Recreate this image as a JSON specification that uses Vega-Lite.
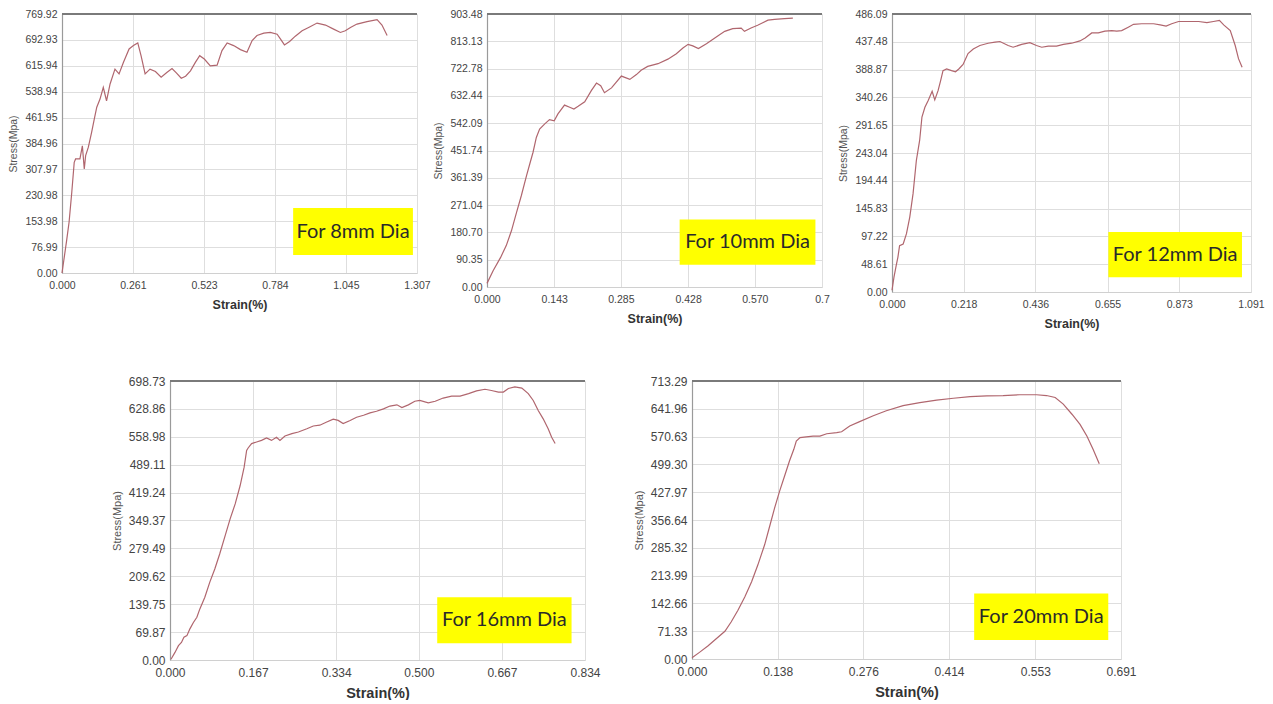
{
  "$schema": "https://vega.github.io/schema/vega-lite/v6.json",
  "background": "white",
  "padding": {"left": 8, "top": 9, "right": 0, "bottom": 0},
  "config": {
    "view": {"stroke": null},
    "axis": {
      "labelFont": "Liberation Sans",
      "titleFont": "Liberation Sans",
      "labelColor": "#444444",
      "gridColor": "#dedede",
      "gridWidth": 1,
      "ticks": false,
      "tickCount": 50,
      "labelFlush": false,
      "labelOverlap": false,
      "labelSeparation": 0,
      "labelPadding": 5
    },
    "axisX": {"domainColor": "#d0d0d0", "titleFontWeight": "bold", "titleColor": "#333333", "titlePadding": 8, "labelPadding": 7},
    "axisY": {"domainColor": "#9a9a9a", "domainWidth": 1.2, "titleFontWeight": "normal", "titleColor": "#555555", "titlePadding": 6},
    "line": {"color": "#b0666e", "strokeWidth": 1.2},
    "rect": {"color": "#ffff00"},
    "text": {"font": "Lato", "fontSize": 20, "color": "#2a2a2a", "align": "center", "baseline": "middle"}
  },
  "spacing": 45,
  "vconcat": [
    {
      "bounds": "flush",
      "spacing": 70,
      "hconcat": [
        {
          "width": 355, "height": 259,
          "data": {"values": [
            {"strain":0,"stress":0},{"strain":0.017,"stress":96},{"strain":0.026,"stress":151},{"strain":0.036,"stress":240},{"strain":0.045,"stress":329},{"strain":0.050,"stress":339},{"strain":0.066,"stress":339},{"strain":0.075,"stress":378},{"strain":0.082,"stress":309},{"strain":0.087,"stress":349},{"strain":0.097,"stress":374},{"strain":0.109,"stress":418},{"strain":0.119,"stress":458},{"strain":0.128,"stress":493},{"strain":0.140,"stress":517},{"strain":0.152,"stress":552},{"strain":0.164,"stress":512},{"strain":0.177,"stress":562},{"strain":0.195,"stress":606},{"strain":0.210,"stress":592},{"strain":0.226,"stress":626},{"strain":0.247,"stress":666},{"strain":0.263,"stress":676},{"strain":0.279,"stress":684},{"strain":0.291,"stress":646},{"strain":0.306,"stress":592},{"strain":0.324,"stress":606},{"strain":0.344,"stress":599},{"strain":0.365,"stress":582},{"strain":0.387,"stress":597},{"strain":0.405,"stress":608},{"strain":0.421,"stress":595},{"strain":0.439,"stress":579},{"strain":0.455,"stress":585},{"strain":0.473,"stress":601},{"strain":0.491,"stress":626},{"strain":0.507,"stress":646},{"strain":0.524,"stress":636},{"strain":0.546,"stress":616},{"strain":0.571,"stress":618},{"strain":0.589,"stress":661},{"strain":0.608,"stress":684},{"strain":0.632,"stress":676},{"strain":0.657,"stress":664},{"strain":0.681,"stress":656},{"strain":0.700,"stress":691},{"strain":0.718,"stress":706},{"strain":0.743,"stress":713},{"strain":0.767,"stress":715},{"strain":0.792,"stress":710},{"strain":0.804,"stress":696},{"strain":0.819,"stress":678},{"strain":0.838,"stress":688},{"strain":0.859,"stress":704},{"strain":0.884,"stress":720},{"strain":0.908,"stress":730},{"strain":0.939,"stress":743},{"strain":0.970,"stress":737},{"strain":1.000,"stress":725},{"strain":1.025,"stress":715},{"strain":1.043,"stress":720},{"strain":1.062,"stress":730},{"strain":1.086,"stress":740},{"strain":1.123,"stress":747},{"strain":1.160,"stress":753},{"strain":1.178,"stress":737},{"strain":1.197,"stress":706}
          ]},
          "layer": [
            {
              "mark": "line",
              "encoding": {
                "x": {"field": "strain", "type": "quantitative", "scale": {"domain": [0, 1.307], "nice": false, "zero": false},
                      "axis": {"title": "Strain(%)", "values": [0, 0.261, 0.523, 0.784, 1.045, 1.307], "tickCount": 50, "format": ".3f", "labelFontSize": 10.5, "titleFontSize": 12.5, "labelOverlap": false}},
                "y": {"field": "stress", "type": "quantitative", "scale": {"domain": [0, 769.92], "nice": false, "zero": false},
                      "axis": {"title": "Stress(Mpa)", "values": [0, 76.99, 153.98, 230.98, 307.97, 384.96, 461.95, 538.94, 615.94, 692.93, 769.92], "tickCount": 50, "format": ".2f", "labelFontSize": 10.5, "titleFontSize": 10.5, "labelOverlap": false}}
              }
            },
            {"mark": {"type": "rule", "color": "#7a7a7a", "strokeWidth": 2}, "encoding": {"y": {"datum": 769.92}}},
            {"data": {"values": [{"label": "For 8mm Dia"}]}, "mark": "rect",
             "encoding": {"x": {"datum": 0.851}, "x2": {"datum": 1.292}, "y": {"datum": 193}, "y2": {"datum": 53.5}}},
            {"data": {"values": [{"label": "For 8mm Dia"}]}, "mark": "text",
             "encoding": {"x": {"datum": 1.0715}, "y": {"datum": 123}, "text": {"field": "label"}}}
          ]
        },
        {
          "width": 335, "height": 273,
          "data": {"values": [
            {"strain":0,"stress":12},{"strain":0.013,"stress":54},{"strain":0.029,"stress":98},{"strain":0.041,"stress":137},{"strain":0.052,"stress":186},{"strain":0.062,"stress":242},{"strain":0.073,"stress":302},{"strain":0.084,"stress":368},{"strain":0.091,"stress":407},{"strain":0.098,"stress":446},{"strain":0.105,"stress":495},{"strain":0.112,"stress":523},{"strain":0.123,"stress":540},{"strain":0.133,"stress":554},{"strain":0.143,"stress":550},{"strain":0.151,"stress":573},{"strain":0.165,"stress":602},{"strain":0.176,"stress":595},{"strain":0.185,"stress":589},{"strain":0.194,"stress":598},{"strain":0.208,"stress":613},{"strain":0.222,"stress":650},{"strain":0.233,"stress":675},{"strain":0.242,"stress":666},{"strain":0.250,"stress":643},{"strain":0.265,"stress":659},{"strain":0.286,"stress":698},{"strain":0.304,"stress":687},{"strain":0.318,"stress":703},{"strain":0.328,"stress":717},{"strain":0.342,"stress":730},{"strain":0.364,"stress":739},{"strain":0.385,"stress":754},{"strain":0.403,"stress":772},{"strain":0.417,"stress":791},{"strain":0.428,"stress":803},{"strain":0.438,"stress":798},{"strain":0.450,"stress":789},{"strain":0.467,"stress":805},{"strain":0.481,"stress":820},{"strain":0.495,"stress":835},{"strain":0.506,"stress":846},{"strain":0.523,"stress":855},{"strain":0.541,"stress":857},{"strain":0.548,"stress":846},{"strain":0.562,"stress":857},{"strain":0.576,"stress":866},{"strain":0.598,"stress":883},{"strain":0.612,"stress":886},{"strain":0.633,"stress":888},{"strain":0.651,"stress":890}
          ]},
          "layer": [
            {
              "mark": "line",
              "encoding": {
                "x": {"field": "strain", "type": "quantitative", "scale": {"domain": [0, 0.713], "nice": false, "zero": false},
                      "axis": {"title": "Strain(%)", "values": [0, 0.143, 0.285, 0.428, 0.570, 0.713], "tickCount": 50, "labelExpr": "datum.value > 0.7 ? '0.7' : format(datum.value, '.3f')", "labelFontSize": 10.5, "titleFontSize": 12.5, "labelOverlap": false}},
                "y": {"field": "stress", "type": "quantitative", "scale": {"domain": [0, 903.48], "nice": false, "zero": false},
                      "axis": {"title": "Stress(Mpa)", "values": [0, 90.35, 180.70, 271.04, 361.39, 451.74, 542.09, 632.44, 722.78, 813.13, 903.48], "tickCount": 50, "format": ".2f", "labelFontSize": 10.5, "titleFontSize": 10.5, "labelOverlap": false}}
              }
            },
            {"mark": {"type": "rule", "color": "#7a7a7a", "strokeWidth": 2}, "encoding": {"y": {"datum": 903.48}}},
            {"data": {"values": [{"label": "For 10mm Dia"}]}, "mark": "rect",
             "encoding": {"x": {"datum": 0.410}, "x2": {"datum": 0.699}, "y": {"datum": 223}, "y2": {"datum": 74}}},
            {"data": {"values": [{"label": "For 10mm Dia"}]}, "mark": "text",
             "encoding": {"x": {"datum": 0.5545}, "y": {"datum": 148.5}, "text": {"field": "label"}}}
          ]
        },
        {
          "width": 359, "height": 278,
          "data": {"values": [
            {"strain":0,"stress":3},{"strain":0.006,"stress":26},{"strain":0.013,"stress":47},{"strain":0.018,"stress":61},{"strain":0.023,"stress":81},{"strain":0.034,"stress":84},{"strain":0.044,"stress":102},{"strain":0.054,"stress":131},{"strain":0.064,"stress":172},{"strain":0.074,"stress":230},{"strain":0.084,"stress":265},{"strain":0.091,"stress":306},{"strain":0.100,"stress":323},{"strain":0.110,"stress":335},{"strain":0.122,"stress":351},{"strain":0.130,"stress":336},{"strain":0.140,"stress":352},{"strain":0.148,"stress":370},{"strain":0.155,"stress":387},{"strain":0.166,"stress":390},{"strain":0.181,"stress":387},{"strain":0.193,"stress":385},{"strain":0.203,"stress":390},{"strain":0.216,"stress":398},{"strain":0.231,"stress":417},{"strain":0.247,"stress":425},{"strain":0.267,"stress":431},{"strain":0.292,"stress":435},{"strain":0.313,"stress":437},{"strain":0.328,"stress":438},{"strain":0.353,"stress":431},{"strain":0.368,"stress":428},{"strain":0.394,"stress":433},{"strain":0.419,"stress":436},{"strain":0.439,"stress":431},{"strain":0.455,"stress":428},{"strain":0.475,"stress":430},{"strain":0.500,"stress":430},{"strain":0.521,"stress":433},{"strain":0.546,"stress":435},{"strain":0.571,"stress":439},{"strain":0.587,"stress":444},{"strain":0.607,"stress":453},{"strain":0.627,"stress":453},{"strain":0.647,"stress":456},{"strain":0.668,"stress":457},{"strain":0.683,"stress":456},{"strain":0.698,"stress":457},{"strain":0.718,"stress":463},{"strain":0.734,"stress":468},{"strain":0.759,"stress":469},{"strain":0.795,"stress":469},{"strain":0.815,"stress":467},{"strain":0.833,"stress":465},{"strain":0.850,"stress":469},{"strain":0.871,"stress":473},{"strain":0.896,"stress":473},{"strain":0.932,"stress":473},{"strain":0.957,"stress":471},{"strain":0.977,"stress":473},{"strain":0.995,"stress":475},{"strain":1.008,"stress":467},{"strain":1.028,"stress":457},{"strain":1.043,"stress":431},{"strain":1.053,"stress":408},{"strain":1.064,"stress":393}
          ]},
          "layer": [
            {
              "mark": "line",
              "encoding": {
                "x": {"field": "strain", "type": "quantitative", "scale": {"domain": [0, 1.091], "nice": false, "zero": false},
                      "axis": {"title": "Strain(%)", "values": [0, 0.218, 0.436, 0.655, 0.873, 1.091], "tickCount": 50, "format": ".3f", "labelFontSize": 10.5, "titleFontSize": 12.5, "labelOverlap": false}},
                "y": {"field": "stress", "type": "quantitative", "scale": {"domain": [0, 486.09], "nice": false, "zero": false},
                      "axis": {"title": "Stress(Mpa)", "values": [0, 48.61, 97.22, 145.83, 194.44, 243.04, 291.65, 340.26, 388.87, 437.48, 486.09], "tickCount": 50, "format": ".2f", "labelFontSize": 10.5, "titleFontSize": 10.5, "labelOverlap": false}}
              }
            },
            {"mark": {"type": "rule", "color": "#7a7a7a", "strokeWidth": 2}, "encoding": {"y": {"datum": 486.09}}},
            {"data": {"values": [{"label": "For 12mm Dia"}]}, "mark": "rect",
             "encoding": {"x": {"datum": 0.6575}, "x2": {"datum": 1.0636}, "y": {"datum": 105}, "y2": {"datum": 26}}},
            {"data": {"values": [{"label": "For 12mm Dia"}]}, "mark": "text",
             "encoding": {"x": {"datum": 0.8606}, "y": {"datum": 65.5}, "text": {"field": "label"}}}
          ]
        }
      ]
    },
    {
      "bounds": "flush",
      "spacing": 107,
      "hconcat": [
        {"width": 1, "height": 10, "data": {"values": []}, "mark": {"type": "point", "opacity": 0}},
        {
          "width": 415, "height": 279,
          "data": {"values": [
            {"strain":0.002,"stress":2},{"strain":0.010,"stress":19},{"strain":0.017,"stress":36},{"strain":0.023,"stress":44},{"strain":0.028,"stress":57},{"strain":0.034,"stress":61},{"strain":0.040,"stress":78},{"strain":0.047,"stress":94},{"strain":0.054,"stress":107},{"strain":0.060,"stress":128},{"strain":0.070,"stress":157},{"strain":0.080,"stress":195},{"strain":0.090,"stress":228},{"strain":0.100,"stress":266},{"strain":0.111,"stress":312},{"strain":0.121,"stress":354},{"strain":0.131,"stress":391},{"strain":0.141,"stress":437},{"strain":0.149,"stress":483},{"strain":0.154,"stress":525},{"strain":0.157,"stress":531},{"strain":0.164,"stress":542},{"strain":0.174,"stress":546},{"strain":0.184,"stress":550},{"strain":0.194,"stress":556},{"strain":0.204,"stress":550},{"strain":0.214,"stress":558},{"strain":0.221,"stress":550},{"strain":0.231,"stress":561},{"strain":0.245,"stress":567},{"strain":0.258,"stress":571},{"strain":0.275,"stress":579},{"strain":0.288,"stress":586},{"strain":0.301,"stress":588},{"strain":0.315,"stress":596},{"strain":0.328,"stress":603},{"strain":0.338,"stress":600},{"strain":0.348,"stress":592},{"strain":0.362,"stress":600},{"strain":0.375,"stress":608},{"strain":0.389,"stress":613},{"strain":0.402,"stress":619},{"strain":0.415,"stress":623},{"strain":0.429,"stress":629},{"strain":0.442,"stress":636},{"strain":0.456,"stress":639},{"strain":0.466,"stress":632},{"strain":0.479,"stress":639},{"strain":0.492,"stress":648},{"strain":0.502,"stress":650},{"strain":0.519,"stress":644},{"strain":0.533,"stress":648},{"strain":0.549,"stress":656},{"strain":0.566,"stress":661},{"strain":0.583,"stress":661},{"strain":0.600,"stress":667},{"strain":0.616,"stress":674},{"strain":0.633,"stress":678},{"strain":0.646,"stress":675},{"strain":0.660,"stress":671},{"strain":0.670,"stress":671},{"strain":0.680,"stress":680},{"strain":0.693,"stress":684},{"strain":0.707,"stress":681},{"strain":0.720,"stress":667},{"strain":0.730,"stress":650},{"strain":0.740,"stress":625},{"strain":0.750,"stress":604},{"strain":0.760,"stress":579},{"strain":0.767,"stress":558},{"strain":0.774,"stress":542}
          ]},
          "layer": [
            {
              "mark": "line",
              "encoding": {
                "x": {"field": "strain", "type": "quantitative", "scale": {"domain": [0, 0.834], "nice": false, "zero": false},
                      "axis": {"title": "Strain(%)", "values": [0, 0.167, 0.334, 0.500, 0.667, 0.834], "tickCount": 50, "format": ".3f", "labelFontSize": 12, "titleFontSize": 14.5, "labelOverlap": false}},
                "y": {"field": "stress", "type": "quantitative", "scale": {"domain": [0, 698.73], "nice": false, "zero": false},
                      "axis": {"title": "Stress(Mpa)", "values": [0, 69.87, 139.75, 209.62, 279.49, 349.37, 419.24, 489.11, 558.98, 628.86, 698.73], "tickCount": 50, "format": ".2f", "labelFontSize": 12, "titleFontSize": 11, "labelOverlap": false}}
              }
            },
            {"mark": {"type": "rule", "color": "#7a7a7a", "strokeWidth": 2}, "encoding": {"y": {"datum": 698.73}}},
            {"data": {"values": [{"label": "For 16mm Dia"}]}, "mark": "rect",
             "encoding": {"x": {"datum": 0.537}, "x2": {"datum": 0.807}, "y": {"datum": 157}, "y2": {"datum": 42}}},
            {"data": {"values": [{"label": "For 16mm Dia"}]}, "mark": "text",
             "encoding": {"x": {"datum": 0.672}, "y": {"datum": 99.5}, "text": {"field": "label"}}}
          ]
        },
        {
          "width": 429, "height": 278,
          "data": {"values": [
            {"strain":0,"stress":3},{"strain":0.012,"stress":17},{"strain":0.026,"stress":34},{"strain":0.039,"stress":52},{"strain":0.053,"stress":71},{"strain":0.063,"stress":95},{"strain":0.074,"stress":125},{"strain":0.085,"stress":159},{"strain":0.096,"stress":198},{"strain":0.106,"stress":241},{"strain":0.117,"stress":293},{"strain":0.125,"stress":340},{"strain":0.133,"stress":387},{"strain":0.141,"stress":430},{"strain":0.149,"stress":469},{"strain":0.157,"stress":508},{"strain":0.164,"stress":538},{"strain":0.168,"stress":559},{"strain":0.174,"stress":568},{"strain":0.184,"stress":570},{"strain":0.195,"stress":572},{"strain":0.206,"stress":572},{"strain":0.217,"stress":578},{"strain":0.233,"stress":581},{"strain":0.241,"stress":583},{"strain":0.254,"stress":598},{"strain":0.270,"stress":609},{"strain":0.292,"stress":624},{"strain":0.313,"stress":637},{"strain":0.340,"stress":650},{"strain":0.367,"stress":658},{"strain":0.394,"stress":664},{"strain":0.421,"stress":669},{"strain":0.448,"stress":673},{"strain":0.475,"stress":675},{"strain":0.501,"stress":676},{"strain":0.528,"stress":678},{"strain":0.555,"stress":678},{"strain":0.571,"stress":676},{"strain":0.585,"stress":671},{"strain":0.598,"stress":654},{"strain":0.612,"stress":628},{"strain":0.625,"stress":602},{"strain":0.636,"stress":572},{"strain":0.646,"stress":538},{"strain":0.656,"stress":501}
          ]},
          "layer": [
            {
              "mark": "line",
              "encoding": {
                "x": {"field": "strain", "type": "quantitative", "scale": {"domain": [0, 0.691], "nice": false, "zero": false},
                      "axis": {"title": "Strain(%)", "values": [0, 0.138, 0.276, 0.414, 0.553, 0.691], "tickCount": 50, "format": ".3f", "labelFontSize": 12, "titleFontSize": 14.5, "labelOverlap": false}},
                "y": {"field": "stress", "type": "quantitative", "scale": {"domain": [0, 713.29], "nice": false, "zero": false},
                      "axis": {"title": "Stress(Mpa)", "values": [0, 71.33, 142.66, 213.99, 285.32, 356.64, 427.97, 499.30, 570.63, 641.96, 713.29], "tickCount": 50, "format": ".2f", "labelFontSize": 12, "titleFontSize": 11, "labelOverlap": false}}
              }
            },
            {"mark": {"type": "rule", "color": "#7a7a7a", "strokeWidth": 2}, "encoding": {"y": {"datum": 713.29}}},
            {"data": {"values": [{"label": "For 20mm Dia"}]}, "mark": "rect",
             "encoding": {"x": {"datum": 0.4545}, "x2": {"datum": 0.6705}, "y": {"datum": 168}, "y2": {"datum": 49}}},
            {"data": {"values": [{"label": "For 20mm Dia"}]}, "mark": "text",
             "encoding": {"x": {"datum": 0.5625}, "y": {"datum": 108.5}, "text": {"field": "label"}}}
          ]
        }
      ]
    }
  ]
}
